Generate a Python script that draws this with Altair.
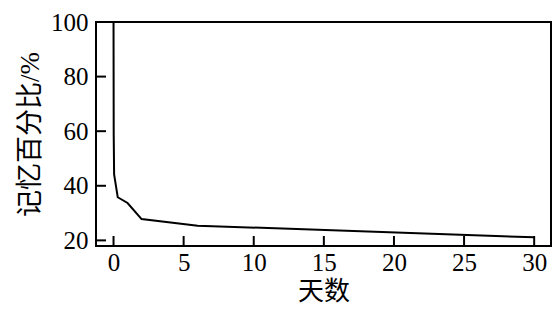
import altair as alt
import pandas as pd

days = [0, 0.014, 0.042, 0.3, 1, 2, 6, 30]
memory = [100, 58.2, 44.2, 35.8, 33.7, 27.8, 25.4, 21.1]
x_ticks = [0, 5, 10, 15, 20, 25, 30]
y_ticks = [20, 40, 60, 80, 100]

W, H = 455, 224
X_DOM = [-1.25, 31.2]
Y_DOM = [17.94, 100]
xs = alt.Scale(domain=X_DOM, nice=False, zero=False)
ys = alt.Scale(domain=Y_DOM, nice=False, zero=False)
TICK_PX = 10
x_len = TICK_PX / W * (X_DOM[1] - X_DOM[0])
y_len = TICK_PX / H * (Y_DOM[1] - Y_DOM[0])

num_font = "Liberation Serif"
cjk_font = "Liberation Serif, Noto Sans CJK SC"

curve = pd.DataFrame({"day": days, "mem": memory})
xt = pd.DataFrame({"t": x_ticks})
yt = pd.DataFrame({"v": y_ticks})

x_axis = alt.Axis(
    values=x_ticks, ticks=False, domain=False, grid=False,
    labelFont=num_font, labelFontSize=25, labelColor="black", labelPadding=4,
    title="天数", titleFont=cjk_font, titleFontSize=26, titleFontWeight="normal",
    titleColor="black", titlePadding=3)
y_axis = alt.Axis(
    values=y_ticks, ticks=False, domain=False, grid=False,
    labelFont=num_font, labelFontSize=25, labelColor="black", labelPadding=8,
    title="记忆百分比/%", titleFont=cjk_font, titleFontSize=27, titleFontWeight="normal",
    titleColor="black", titlePadding=6)

line = alt.Chart(curve).mark_line(color="black", strokeWidth=2, clip=True).encode(
    x=alt.X("day:Q", scale=xs, axis=x_axis),
    y=alt.Y("mem:Q", scale=ys, axis=y_axis),
)

xtick = alt.Chart(xt).mark_rule(color="black", strokeWidth=2).encode(
    x=alt.X("t:Q", scale=xs, axis=None),
    y=alt.YDatum(Y_DOM[0], axis=None),
    y2=alt.Y2Datum(Y_DOM[0] + y_len),
)
ytick = alt.Chart(yt).mark_rule(color="black", strokeWidth=2).encode(
    y=alt.Y("v:Q", scale=ys, axis=None),
    x=alt.XDatum(X_DOM[0], axis=None),
    x2=alt.X2Datum(X_DOM[0] + x_len),
)

chart = alt.layer(line, xtick, ytick).resolve_axis(x="independent", y="independent").properties(
    width=W, height=H,
    autosize=alt.AutoSizeParams(type="none"),
    padding={"left": 88, "top": 14, "right": 1, "bottom": 62},
).configure_view(stroke="black", strokeWidth=2).configure_axis(labelFlush=False)

chart.save("out.html", embed_options={"renderer": "svg", "actions": False})
